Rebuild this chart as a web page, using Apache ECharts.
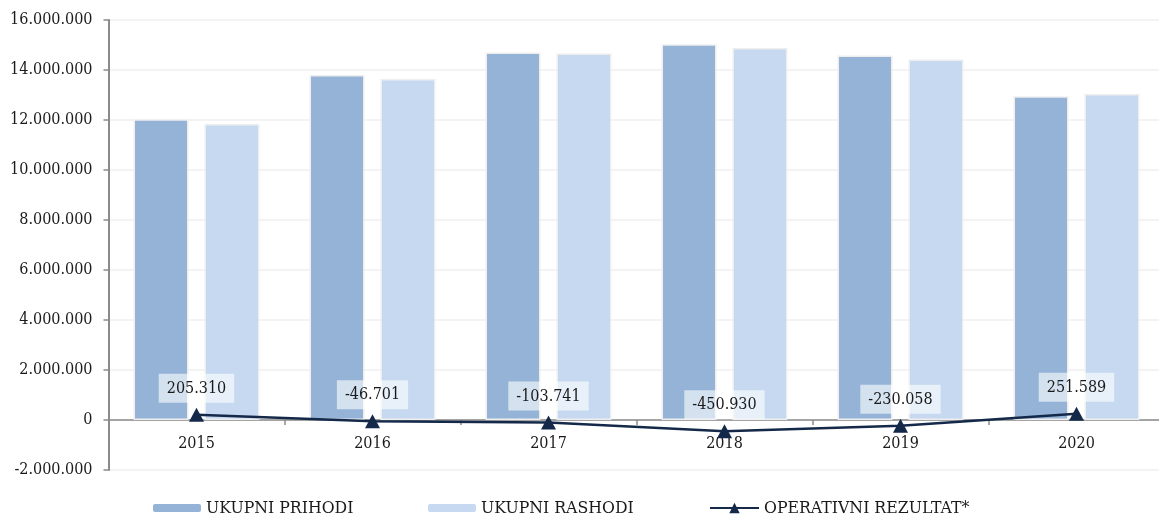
<!DOCTYPE html>
<html>
<head>
<meta charset="utf-8">
<script src="https://cdn.jsdelivr.net/npm/echarts@6/dist/echarts.min.js"></script>
<style>
html,body{margin:0;padding:0;background:#fff;overflow:hidden;}
#chart{width:1170px;height:518px;}
</style>
</head>
<body>
<div id="chart"></div>
<script>
const categories = ['2015', '2016', '2017', '2018', '2019', '2020'];
const seriesNames = ['UKUPNI PRIHODI', 'UKUPNI RASHODI', 'OPERATIVNI REZULTAT*'];
const prihodi = [12030000, 13800000, 14700000, 15030000, 14580000, 12950000];
const rashodi = [11840000, 13640000, 14660000, 14880000, 14420000, 13040000];
const rezultat = [205310, -46701, -103741, -450930, -230058, 251589];
const yMin = -2000000, yMax = 16000000, yStep = 2000000;

const FONT = "'DejaVu Serif Condensed', 'DejaVu Serif', serif";
function fmt(v) {
  const s = String(Math.abs(Math.round(v))).replace(/\B(?=(\d{3})+(?!\d))/g, '.');
  return (v < 0 ? '-' : '') + s;
}

const chart = echarts.init(document.getElementById('chart'), null, {renderer: 'canvas'});
const legendBase = {
  top: 499,
  padding: 0,
  itemGap: 0,
  textStyle: {fontFamily: FONT, fontSize: 17.5, color: '#1a1a1a'},
  itemStyle: {borderWidth: 0}
};
chart.setOption({
  animation: false,
  backgroundColor: '#ffffff',
  grid: {left: 108.5, right: 5.5, top: 20, bottom: 48, containLabel: false},
  legend: [
    Object.assign({}, legendBase, {data: [seriesNames[0]], left: 153, itemWidth: 48, itemHeight: 8}),
    Object.assign({}, legendBase, {data: [seriesNames[1]], left: 428, itemWidth: 48, itemHeight: 8}),
    Object.assign({}, legendBase, {data: [seriesNames[2]], left: 709, itemWidth: 49, itemHeight: 13})
  ],
  xAxis: {
    type: 'category',
    data: categories,
    offset: -50,
    axisLine: {onZero: false, lineStyle: {color: '#8a8a8a', width: 1.5}},
    axisTick: {show: true, length: 5, lineStyle: {color: '#8a8a8a', width: 1.5}},
    axisLabel: {margin: 16, fontFamily: FONT, fontSize: 16, color: '#1a1a1a'},
    splitLine: {show: false}
  },
  yAxis: {
    type: 'value',
    min: yMin, max: yMax, interval: yStep,
    axisLine: {show: true, lineStyle: {color: '#8a8a8a', width: 2}},
    axisTick: {show: true, length: 5, lineStyle: {color: '#8a8a8a', width: 1.5}},
    axisLabel: {margin: 16, fontFamily: FONT, fontSize: 16, color: '#1a1a1a', formatter: fmt},
    splitLine: {show: true, lineStyle: {color: '#efefef', width: 1.5}}
  },
  series: [
    {
      name: seriesNames[0], type: 'bar', data: prihodi,
      barWidth: 55, barGap: '29%',
      itemStyle: {color: '#95b3d7', borderColor: '#eeeeee', borderWidth: 1.5}
    },
    {
      name: seriesNames[1], type: 'bar', data: rashodi,
      barWidth: 55,
      itemStyle: {color: '#c6d9f0', borderColor: '#eeeeee', borderWidth: 1.5}
    },
    {
      name: seriesNames[2], type: 'line', data: rezultat, z: 5,
      symbol: 'triangle', symbolSize: [15, 14],
      lineStyle: {color: '#14294a', width: 2.5},
      itemStyle: {color: '#14294a'},
      label: {
        show: true, position: 'top', distance: 5,
        formatter: p => fmt(p.value),
        fontFamily: FONT, fontSize: 16, color: '#1a1a1a',
        backgroundColor: 'rgba(255,255,255,0.6)', padding: [7, 8, 6, 8]
      }
    }
  ]
});
</script>
</body>
</html>
